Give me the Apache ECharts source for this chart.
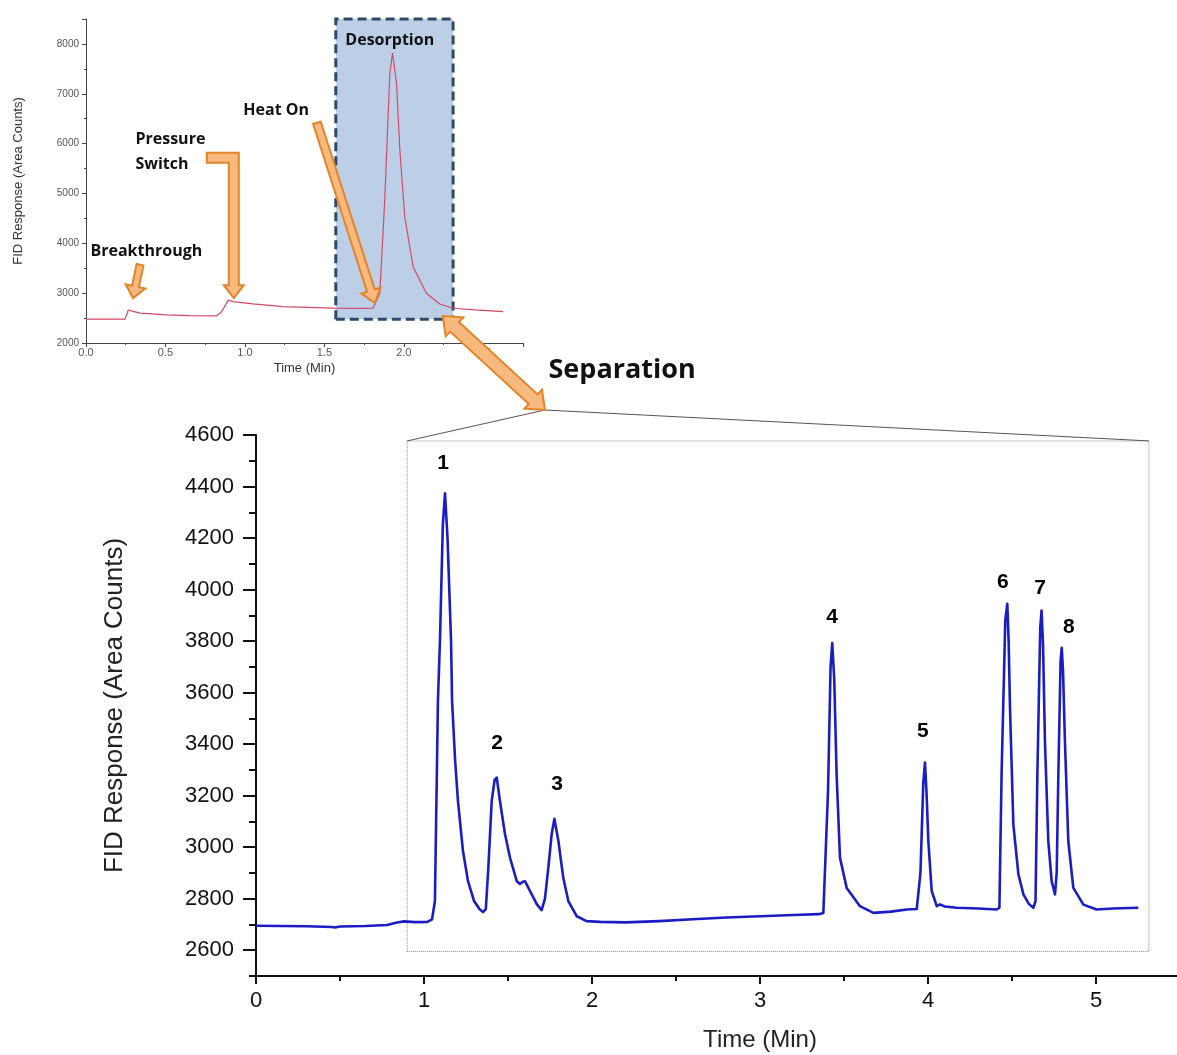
<!DOCTYPE html>
<html style="height: 100%">
<head>
 <meta charset="utf-8">
 <title>FID chromatogram</title>
</head>
<body style="height: 100%; margin: 0; background: #fff">
 <div id="container" style="width: 1177px; height: 1055px"></div>
 <script src="https://cdn.jsdelivr.net/npm/echarts@6/dist/echarts.min.js"></script>
 <script>
    // inset trace: breakthrough -> pressure switch -> heat on -> desorption
    var insetTime = [0, 0.245, 0.255, 0.266, 0.29, 0.34, 0.507, 0.65, 0.822, 0.845, 0.863, 0.895, 0.927, 1.05, 1.24, 1.555, 1.75, 1.807,
        1.849, 1.88, 1.912, 1.929, 1.954, 1.975, 2.006, 2.058, 2.142, 2.226, 2.31, 2.45, 2.625];
    var insetFid = [2480, 2480, 2560, 2663, 2640, 2600, 2565, 2550, 2545, 2600, 2680, 2860, 2830, 2783, 2730, 2700, 2695, 2700,
        3000, 4870, 7416, 7817, 7215, 5876, 4536, 3532, 2998, 2783, 2697, 2665, 2630];

    // main separation trace
    var mainTime = [0, 0.15, 0.30, 0.45, 0.47, 0.50, 0.65, 0.78, 0.84, 0.88, 0.95, 1.02,
        1.048, 1.065, 1.083, 1.095, 1.112, 1.125, 1.140, 1.161, 1.167, 1.185, 1.202, 1.232, 1.262, 1.298, 1.330, 1.351,
        1.368, 1.383, 1.403, 1.420, 1.433, 1.452, 1.482, 1.512, 1.552, 1.571, 1.588, 1.601, 1.631, 1.671, 1.700,
        1.720, 1.740, 1.760, 1.776, 1.800, 1.829, 1.859, 1.909, 1.968, 2.05, 2.20, 2.40, 2.60, 2.80, 3.00, 3.20, 3.35,
        3.377, 3.405, 3.420, 3.430, 3.442, 3.456, 3.476, 3.516, 3.595, 3.675, 3.78, 3.873, 3.933,
        3.955, 3.972, 3.982, 3.992, 4.002, 4.022, 4.052, 4.071, 4.10, 4.17, 4.30, 4.409,
        4.425, 4.438, 4.460, 4.472, 4.480, 4.488, 4.508, 4.538, 4.568, 4.600, 4.627,
        4.640, 4.651, 4.668, 4.676, 4.685, 4.696, 4.716, 4.736, 4.756,
        4.766, 4.776, 4.789, 4.796, 4.804, 4.815, 4.835, 4.865, 4.925, 5.004, 5.10, 5.252];
    var mainFid = [2695, 2694, 2693, 2690, 2688, 2692, 2694, 2698, 2708, 2712, 2709, 2710,
        2720, 2791, 3569, 3802, 4250, 4374, 4200, 3802, 3569, 3340, 3180, 2985, 2868, 2791, 2760, 2748,
        2760, 2920, 3180, 3260, 3270, 3180, 3051, 2959, 2868, 2857, 2866, 2868, 2830, 2779, 2756,
        2800, 2920, 3051, 3110, 3024, 2881, 2791, 2732, 2713, 2710, 2708, 2713, 2720, 2727, 2732, 2737, 2740,
        2745, 3219, 3700, 3792, 3650, 3283, 2959, 2842, 2771, 2745, 2750, 2758, 2760,
        2900, 3250, 3329, 3200, 3024, 2830, 2771, 2778, 2770, 2765, 2762, 2758,
        2765, 3285, 3880, 3945, 3800, 3543, 3089, 2895, 2817, 2780, 2765,
        2790, 3283, 3850, 3919, 3780, 3413, 3024, 2868, 2817,
        2900, 3285, 3720, 3774, 3680, 3413, 3024, 2842, 2777, 2758, 2762, 2765];

    var peakNames = ['1', '2', '3', '4', '5', '6', '7', '8'];
    var peakLabelTime = [1.113, 1.435, 1.792, 3.429, 3.97, 4.446, 4.667, 4.839];
    var peakLabelFid = [4491, 3402, 3246, 3892, 3452, 4028, 4005, 3853];

    var mainYLabels = [2600, 2800, 3000, 3200, 3400, 3600, 3800, 4000, 4200, 4400, 4600];
    var mainYMinor = [2500, 2700, 2900, 3100, 3300, 3500, 3700, 3900, 4100, 4300, 4500];

    // inset annotations (left edge of text, vertical centre)
    var eventNames = ['Breakthrough', 'Pressure\nSwitch', 'Heat On', 'Desorption'];
    var eventTime = [0.025, 0.308, 0.987, 1.629];
    var eventFid = [3827, 5825, 6659, 8064];

    var desorbBox = [1.572, 2476, 2.31, 8606];
    var zoomBox = [0.9, 2595, 5.315, 4577];
    var zoomApex = [1.72, 4697];
    var separationLabel = [2.179, 4853];

    var breakthroughArrow = [[0.34, 3570], [0.296, 2900]];
    var pressureArrow = [[0.76, 5715], [0.93, 5715], [0.93, 2900]];
    var heatArrow = [[1.453, 6418], [1.818, 2803]];
    var separationTail = [2.245, 2542];

    var dom = document.getElementById('container');
    var myChart = echarts.init(dom, null, {renderer: 'canvas'});

    var insetAxisColor = '#444';
    var mainAxisColor = '#111';
    var plain = function (v) { return String(v); };

    var option = {
        animation: false,
        backgroundColor: '#fff',
        grid: [
            {left: 86, top: 19, width: 437, height: 324, outerBoundsMode: 'none'},
            {left: 256, top: 435, width: 1008, height: 541, outerBoundsMode: 'none'}
        ],
        xAxis: [
            {
                gridIndex: 0, type: 'value', min: 0, max: 2.75, interval: 0.5,
                name: 'Time (Min)', nameLocation: 'middle', nameGap: 19,
                nameTextStyle: {fontSize: 13, color: '#333', fontFamily: 'Liberation Sans'},
                axisLine: {lineStyle: {color: insetAxisColor, width: 1}},
                axisTick: {length: 4, lineStyle: {color: insetAxisColor}},
                minorTick: {show: true, splitNumber: 2, length: 2, lineStyle: {color: insetAxisColor}},
                axisLabel: {fontSize: 11, color: '#555', margin: 4, fontFamily: 'Liberation Sans', showMaxLabel: false,
                    formatter: function (v) { return v.toFixed(1); }},
                splitLine: {show: false}
            },
            {
                gridIndex: 1, type: 'value', min: 0, max: 6, interval: 1,
                name: 'Time (Min)', nameLocation: 'middle', nameGap: 52,
                nameTextStyle: {fontSize: 24, color: '#222', fontFamily: 'Liberation Sans'},
                axisLine: {lineStyle: {color: mainAxisColor, width: 2}},
                axisTick: {length: 8, lineStyle: {color: mainAxisColor, width: 2}},
                minorTick: {show: true, splitNumber: 2, length: 5, lineStyle: {color: mainAxisColor, width: 2}},
                axisLabel: {fontSize: 22, color: '#111', margin: 14, fontFamily: 'Liberation Sans', formatter: plain},
                splitLine: {show: false}
            }
        ],
        yAxis: [
            {
                gridIndex: 0, type: 'value', min: 2000, max: 8500, interval: 1000,
                name: 'FID Response (Area Counts)', nameLocation: 'middle', nameGap: 61,
                nameTextStyle: {fontSize: 13, color: '#333', fontFamily: 'Liberation Sans'},
                axisLine: {show: true, lineStyle: {color: insetAxisColor, width: 1}},
                axisTick: {show: true, length: 4, lineStyle: {color: insetAxisColor}},
                minorTick: {show: true, splitNumber: 2, length: 2, lineStyle: {color: insetAxisColor}},
                axisLabel: {fontSize: 10, color: '#555', margin: 7, fontFamily: 'Liberation Sans', showMaxLabel: false, formatter: plain},
                splitLine: {show: false}
            },
            {
                gridIndex: 1, type: 'value', min: 2500, max: 4600, position: 'left',
                name: 'FID Response (Area Counts)', nameLocation: 'middle', nameGap: 128,
                nameTextStyle: {fontSize: 26, color: '#222', fontFamily: "'Liberation Sans Narrow', 'Liberation Sans'"},
                axisLine: {show: true, lineStyle: {color: mainAxisColor, width: 2}},
                axisTick: {show: true, length: 13, customValues: mainYLabels, lineStyle: {color: mainAxisColor, width: 2}},
                axisLabel: {fontSize: 22, color: '#111', margin: 22, fontFamily: 'Liberation Sans', customValues: mainYLabels, formatter: plain},
                splitLine: {show: false}
            },
            {
                gridIndex: 1, type: 'value', min: 2500, max: 4600, position: 'left', offset: 0,
                axisLine: {show: false},
                axisTick: {show: true, length: 7, customValues: mainYMinor, lineStyle: {color: mainAxisColor, width: 2}},
                axisLabel: {show: false},
                splitLine: {show: false}
            }
        ],
        series: [
            {
                type: 'line', xAxisIndex: 0, yAxisIndex: 0,
                data: insetTime.map(function (t, i) { return [t, insetFid[i]]; }),
                showSymbol: false, smooth: false, clip: false, z: 3,
                lineStyle: {color: '#d24a68', width: 1.2},
                markArea: {
                    silent: true,
                    itemStyle: {color: '#bccfe7', borderColor: '#2f4a68', borderWidth: 3, borderType: [9, 5]},
                    data: [[{coord: [desorbBox[0], desorbBox[1]]}, {coord: [desorbBox[2], desorbBox[3]]}]]
                }
            },
            {
                type: 'scatter', xAxisIndex: 0, yAxisIndex: 0, symbolSize: 1, clip: false, z: 5,
                itemStyle: {color: 'rgba(0,0,0,0)', opacity: 1},
                data: eventNames.map(function (n, i) { return [eventTime[i], eventFid[i], n]; }),
                label: {
                    show: true, position: 'right', distance: 0, opacity: 1,
                    formatter: function (p) { return p.data[2]; },
                    fontSize: 16, fontWeight: 'bold', lineHeight: 25, color: '#111', fontFamily: 'Open Sans'
                }
            },
            {
                type: 'line', xAxisIndex: 1, yAxisIndex: 1,
                data: mainTime.map(function (t, i) { return [t, mainFid[i]]; }),
                showSymbol: false, smooth: false,
                lineStyle: {color: '#1c1cc4', width: 2.6, join: 'round'},
                markArea: {
                    silent: true,
                    itemStyle: {color: 'rgba(0,0,0,0)', borderColor: '#888', borderWidth: 1, borderType: 'dotted'},
                    data: [[{coord: [zoomBox[0], zoomBox[1]]}, {coord: [zoomBox[2], zoomBox[3]]}]]
                }
            },
            {
                type: 'scatter', xAxisIndex: 1, yAxisIndex: 1, symbolSize: 1, z: 5,
                itemStyle: {color: 'rgba(0,0,0,0)', opacity: 1},
                data: peakNames.map(function (n, i) { return [peakLabelTime[i], peakLabelFid[i], n]; }),
                label: {
                    show: true, position: 'inside', opacity: 1,
                    formatter: function (p) { return p.data[2]; },
                    fontSize: 21, fontWeight: 'bold', color: '#000', fontFamily: 'Liberation Sans'
                }
            }
        ]
    };
    myChart.setOption(option);

    function px(gi, p) { return myChart.convertToPixel({gridIndex: gi}, p); }

    // fat straight arrow, optional head at the tail too
    function fatArrow(a, b, w, hw, hl, both) {
        var dx = b[0] - a[0], dy = b[1] - a[1];
        var len = Math.sqrt(dx * dx + dy * dy);
        var ux = dx / len, uy = dy / len, nx = -uy, ny = ux;
        function pt(p, along, side) { return [p[0] + ux * along + nx * side, p[1] + uy * along + ny * side]; }
        var pts = [];
        if (both) {
            pts.push(pt(a, hl, hw / 2), a, pt(a, hl, -hw / 2), pt(a, hl, -w / 2));
        } else {
            pts.push(pt(a, 0, -w / 2));
        }
        pts.push(pt(b, -hl, -w / 2), pt(b, -hl, -hw / 2), b, pt(b, -hl, hw / 2), pt(b, -hl, w / 2));
        pts.push(both ? pt(a, hl, w / 2) : pt(a, 0, w / 2));
        return pts;
    }

    var arrowStyle = {fill: '#f7b97e', stroke: '#e2842a', lineWidth: 2};
    var elements = [];

    elements.push({type: 'polygon', z: 100, shape: {points: fatArrow(px(0, breakthroughArrow[0]), px(0, breakthroughArrow[1]), 7, 20, 12)}, style: arrowStyle});
    elements.push({type: 'polygon', z: 100, shape: {points: fatArrow(px(0, heatArrow[0]), px(0, heatArrow[1]), 8, 20, 13)}, style: arrowStyle});

    // bent pressure-switch arrow
    var p0 = px(0, pressureArrow[0]), pc = px(0, pressureArrow[1]), pt = px(0, pressureArrow[2]);
    var s = 5, h = 10, L = 13;
    elements.push({type: 'polygon', z: 100, shape: {points: [
        [p0[0], p0[1] - s], [pc[0] + s, pc[1] - s], [pc[0] + s, pt[1] - L], [pc[0] + h, pt[1] - L], [pc[0], pt[1]],
        [pc[0] - h, pt[1] - L], [pc[0] - s, pt[1] - L], [pc[0] - s, pc[1] + s], [p0[0], p0[1] + s]
    ]}, style: arrowStyle});

    // zoom lines from apex to the dotted box
    var apex = px(1, zoomApex);
    var c1 = px(1, [zoomBox[0], zoomBox[3]]), c2 = px(1, [zoomBox[2], zoomBox[3]]);
    elements.push({type: 'polyline', z: 90, shape: {points: [c1, apex, c2]}, style: {stroke: '#555', lineWidth: 1, fill: null}});

    // separation arrow from the desorption box down to the main chart
    elements.push({type: 'polygon', z: 100, shape: {points: fatArrow(px(0, separationTail), apex, 13, 26, 16, true)}, style: arrowStyle});

    var sp = px(1, separationLabel);
    elements.push({type: 'text', z: 100, x: sp[0], y: sp[1], style: {
        text: 'Separation', align: 'center', verticalAlign: 'middle',
        fontSize: 27, fontWeight: 'bold', fontFamily: 'Open Sans', fill: '#111'
    }});

    myChart.setOption({graphic: {elements: elements}});
</script>
</body>
</html>
